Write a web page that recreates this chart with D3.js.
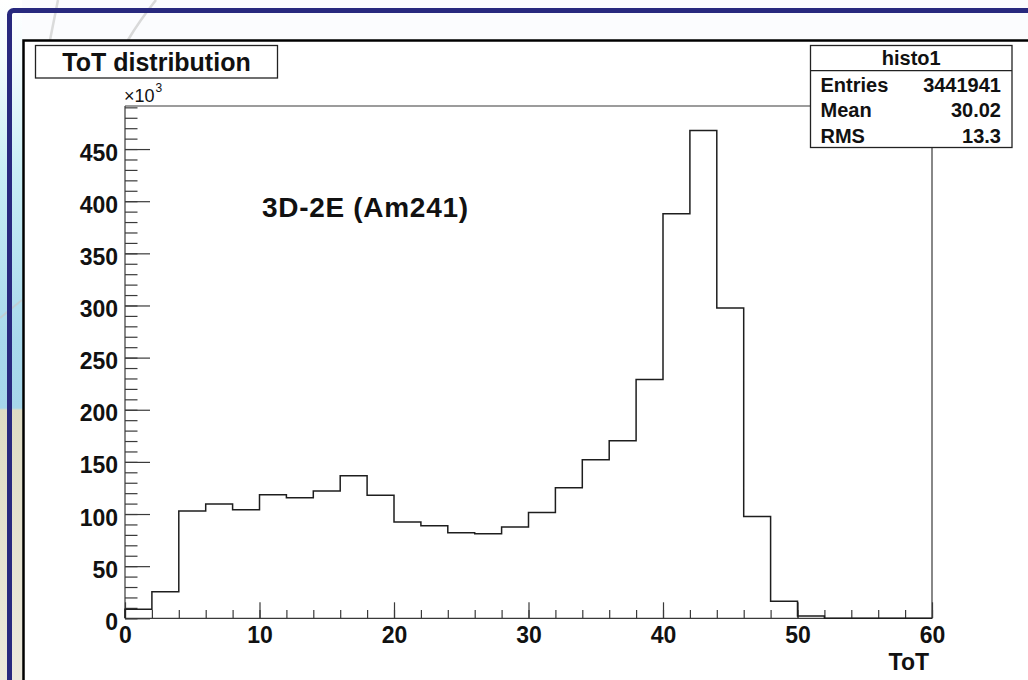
<!DOCTYPE html>
<html>
<head>
<meta charset="utf-8">
<script src="https://cdn.jsdelivr.net/npm/d3@7"></script>
<style>
  html, body { margin: 0; padding: 0; background: #ffffff; }
  svg { display: block; }
  text { font-family: "Liberation Sans", Arial, Helvetica, sans-serif; fill: #111; }
</style>
</head>
<body>
<svg id="chart" width="1028" height="680"></svg>
<script>
// ToT histogram: 2-unit bins from 0 to 60 (counts per bin)
const binEdges = [0, 2, 4, 6, 8, 10, 12, 14, 16, 18, 20, 22, 24, 26, 28, 30,
                  32, 34, 36, 38, 40, 42, 44, 46, 48, 50, 52, 54, 56, 58, 60];
const binCounts = [8600, 25500, 102800, 109500, 104000, 118400, 115600, 122000, 136700, 118100,
                   92300, 88700, 82000, 81000, 87500, 101500, 125100, 152000, 170200, 229000,
                   388000, 467900, 297600, 97700, 16300, 2200, 0, 0, 0, 0];

const xMajorTicks = [0, 10, 20, 30, 40, 50, 60];
const yMajorTicks = [0, 50000, 100000, 150000, 200000, 250000, 300000, 350000, 400000, 450000];

const titleText = "ToT distribution";
const xAxisTitle = "ToT";
const annotation = "3D-2E (Am241)";
const statsName = "histo1";
const statsLabels = ["Entries", "Mean", "RMS"];
const statsValues = ["3441941", "30.02", "13.3"];

const svg = d3.select("#chart");
const W = 1028, H = 680;

// ---------- slide background ----------
const defs = svg.append("defs");
const bg = defs.append("linearGradient").attr("id", "slideBg")
  .attr("x1", 0).attr("y1", 0).attr("x2", 0).attr("y2", 1);
[[0, "#ffffff"], [0.09, "#f2fbfd"], [0.25, "#c9eef5"], [0.5, "#a9d9ec"], [0.6, "#a6d6ea"],
 [0.603, "#dedcc4"], [1, "#ece9dc"]]
  .forEach(([o, c]) => bg.append("stop").attr("offset", o).attr("stop-color", c));

svg.append("rect").attr("width", W).attr("height", H).attr("fill", "url(#slideBg)");
// upper strip stays white
svg.append("rect").attr("x", 22).attr("y", 0).attr("width", W).attr("height", 40).attr("fill", "#fbfcfe");

// faint decorative swooshes
svg.append("path").attr("d", "M58,0 Q54,20 50,40").attr("fill", "none")
  .attr("stroke", "#d2d2d2").attr("stroke-width", 2.5).attr("opacity", 0.8);
svg.append("path").attr("d", "M156,0 Q140,20 128,40").attr("fill", "none")
  .attr("stroke", "#cfcfcf").attr("stroke-width", 2.5).attr("opacity", 0.8);
svg.append("path").attr("d", "M0,318 Q12,308 22,300").attr("fill", "none")
  .attr("stroke", "#c8c8c8").attr("stroke-width", 2).attr("opacity", 0.7);

// navy slide frame
svg.append("rect").attr("x", 9.5).attr("y", 10.5).attr("width", W + 40).attr("height", H + 40)
  .attr("rx", 4).attr("fill", "none").attr("stroke", "#28297e").attr("stroke-width", 5);

// ---------- canvas ----------
svg.append("rect").attr("x", 23.5).attr("y", 40.5).attr("width", W).attr("height", H)
  .attr("fill", "#ffffff").attr("stroke", "#000").attr("stroke-width", 2.5);

// ---------- scales ----------
const plot = { left: 125, right: 932, top: 106, bottom: 618.3 };
const yMax = d3.max(binCounts) * 1.05;
const x = d3.scaleLinear().domain([binEdges[0], binEdges[binEdges.length - 1]]).range([plot.left, plot.right]);
const y = d3.scaleLinear().domain([0, yMax]).range([plot.bottom, plot.top]);

const frameColor = "#3a3a3a";

// frame (top and right)
svg.append("path")
  .attr("d", `M${plot.left},${plot.top}H${plot.right}V${plot.bottom}`)
  .attr("fill", "none").attr("stroke", frameColor).attr("stroke-width", 1.2);

// ---------- y axis ----------
const yMinor = d3.range(0, yMax, 10000);
svg.append("g").attr("transform", `translate(${plot.left},0)`)
  .call(d3.axisLeft(y).tickValues(yMinor).tickSizeInner(-12.5).tickSizeOuter(0).tickFormat(""))
  .call(g => g.select(".domain").remove())
  .call(g => g.selectAll("line").attr("stroke", frameColor).attr("stroke-width", 1.2));

svg.append("g").attr("transform", `translate(${plot.left},0)`)
  .call(d3.axisLeft(y).tickValues(yMajorTicks).tickSizeInner(-25).tickSizeOuter(0).tickPadding(7)
    .tickFormat(d => d3.format("d")(d / 1000)))
  .call(g => g.select(".domain").attr("stroke", frameColor).attr("stroke-width", 1.2)
    .attr("d", `M0,${plot.bottom}V${plot.top}`))
  .call(g => g.selectAll("line").attr("stroke", frameColor).attr("stroke-width", 1.2))
  .call(g => g.selectAll("text").attr("dy", 11).attr("fill", "#111")
    .style("font-size", "23px").style("font-weight", "bold"));

// ---------- x axis ----------
const xMinor = binEdges;
svg.append("g").attr("transform", `translate(0,${plot.bottom})`)
  .call(d3.axisBottom(x).tickValues(xMinor).tickSizeInner(-8.3).tickSizeOuter(0).tickFormat(""))
  .call(g => g.select(".domain").remove())
  .call(g => g.selectAll("line").attr("stroke", frameColor).attr("stroke-width", 1.2));

svg.append("g").attr("transform", `translate(0,${plot.bottom})`)
  .call(d3.axisBottom(x).tickValues(xMajorTicks).tickSizeInner(-16).tickSizeOuter(0))
  .call(g => g.select(".domain").attr("stroke", frameColor).attr("stroke-width", 1.2)
    .attr("d", `M${plot.left},0H${plot.right}`))
  .call(g => g.selectAll("line").attr("stroke", frameColor).attr("stroke-width", 1.2))
  .call(g => g.selectAll("text").attr("y", 24.4).attr("dy", 0).attr("fill", "#111")
    .style("font-size", "23px").style("font-weight", "bold"));

// ---------- histogram outline ----------
const outline = [{ x: binEdges[0], y: 0 }];
binCounts.forEach((c, i) => {
  outline.push({ x: binEdges[i], y: c });
  outline.push({ x: binEdges[i + 1], y: c });
});
outline.push({ x: binEdges[binEdges.length - 1], y: 0 });

svg.append("path")
  .datum(outline)
  .attr("d", d3.line().x(d => x(d.x)).y(d => y(d.y)))
  .attr("fill", "none").attr("stroke", "#1e1e1e").attr("stroke-width", 1.5)
  .attr("stroke-linejoin", "miter");

// ---------- texts ----------
// exponent label on y axis
const expo = svg.append("text").attr("x", plot.left - 1).attr("y", 102)
  .style("font-size", "18px").style("font-weight", "normal");
expo.append("tspan").style("font-size", "18px").text("\u00d710");
expo.append("tspan").attr("dy", -10).attr("dx", 1).style("font-size", "12px").text("3");

// annotation
svg.append("text").attr("x", 262).attr("y", 216.7)
  .attr("textLength", 206).attr("lengthAdjust", "spacing")
  .style("font-size", "28px").style("font-weight", "bold").text(annotation);

// x axis title
svg.append("text").attr("x", 929).attr("y", 670).attr("text-anchor", "end")
  .style("font-size", "23px").style("font-weight", "bold").text(xAxisTitle);

// title box
svg.append("rect").attr("x", 35.5).attr("y", 45.5).attr("width", 242).attr("height", 32.5)
  .attr("fill", "#fff").attr("stroke", "#222").attr("stroke-width", 1.3);
svg.append("text").attr("x", 156.5).attr("y", 71).attr("text-anchor", "middle")
  .style("font-size", "25px").style("font-weight", "bold").text(titleText);

// statistics box
const sb = { x: 810.5, y: 45.5, w: 201.5, h: 102 };
svg.append("rect").attr("x", sb.x).attr("y", sb.y).attr("width", sb.w).attr("height", sb.h)
  .attr("fill", "#fff").attr("stroke", "#222").attr("stroke-width", 1.3);
svg.append("line").attr("x1", sb.x).attr("x2", sb.x + sb.w).attr("y1", 70.7).attr("y2", 70.7)
  .attr("stroke", "#222").attr("stroke-width", 1.3);
svg.append("text").attr("x", sb.x + sb.w / 2).attr("y", 65).attr("text-anchor", "middle")
  .style("font-size", "20px").style("font-weight", "bold").text(statsName);

const rowY = d3.scaleLinear().domain([0, 1]).range([91.7, 117.3]);
statsLabels.forEach((lab, i) => {
  svg.append("text").attr("x", 820.5).attr("y", rowY(i))
    .style("font-size", "20px").style("font-weight", "bold").text(lab);
  svg.append("text").attr("x", 1001).attr("y", rowY(i)).attr("text-anchor", "end")
    .style("font-size", "20px").style("font-weight", "bold").text(statsValues[i]);
});
</script>
</body>
</html>
